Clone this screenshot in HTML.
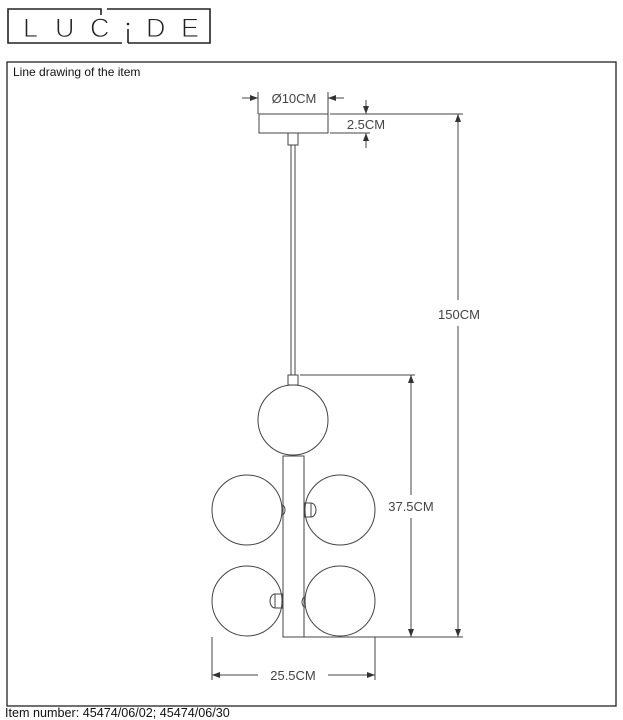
<!DOCTYPE html>
<html><head><meta charset="utf-8"><style>
html,body{margin:0;padding:0;background:#fff;}
body{width:623px;height:720px;overflow:hidden;position:relative;font-family:"Liberation Sans",sans-serif;}
</style></head><body>
<svg width="623" height="720" viewBox="0 0 623 720" xmlns="http://www.w3.org/2000/svg" style="position:absolute;left:0;top:0">
<defs>
<marker id="a" markerWidth="8" markerHeight="6" refX="8" refY="3" orient="auto" markerUnits="userSpaceOnUse"><path d="M0,0 L8,3 L0,6 Z" fill="#333"/></marker>
</defs>
<g fill="none" stroke="#222" stroke-width="1.6">
<path d="M101,15 L101,9 L8,9 L8,43 L122,43"/>
<path d="M107,9 L210,9 L210,43 L128,43"/>
<path d="M128,29 L128,43"/>
</g>
<circle cx="128" cy="24" r="1.3" fill="#222"/>
<g font-family="Liberation Sans,sans-serif" font-size="27" fill="#222" stroke="#fff" stroke-width="0.9">
<text x="23" y="37">L</text><text x="55" y="37">U</text><text x="90" y="37">C</text><text x="146" y="37">D</text><text x="181" y="37">E</text>
</g>
<rect x="7" y="62" width="609" height="644" fill="none" stroke="#222" stroke-width="1.3"/>
<text x="13" y="76" font-size="12" fill="#111">Line drawing of the item</text>
<text x="5" y="717" font-size="12.6" fill="#111">Item number: 45474/06/02; 45474/06/30</text>
<g fill="none" stroke="#444" stroke-width="1">
<rect x="259" y="114" width="69" height="19"/>
<rect x="288" y="133" width="10" height="12"/>
<line x1="291" y1="145" x2="291" y2="375"/><line x1="295" y1="145" x2="295" y2="375"/>
<rect x="288" y="375" width="10" height="10"/>
<circle cx="293" cy="420" r="35"/>
<rect x="283" y="456" width="21" height="181" fill="#fff"/>
<circle cx="247" cy="510" r="35"/>
<circle cx="340" cy="510" r="35"/>
<circle cx="247" cy="601" r="35"/>
<circle cx="340" cy="601" r="35"/>
<path d="M282,505 a3,5 0 0 1 0,10"/>
<rect x="305" y="503" width="6" height="14"/><path d="M311,503 a5,7 0 0 1 0,14"/>
<rect x="275" y="594" width="7" height="14"/><path d="M275,594 a5,7 0 0 0 0,14"/>
<path d="M305,597 a3,5 0 0 0 0,10"/>
</g>
<g stroke="#444" stroke-width="1" fill="none">
<line x1="258" y1="92" x2="258" y2="114"/><line x1="328" y1="92" x2="328" y2="114"/>
<line x1="242" y1="98" x2="258" y2="98" marker-end="url(#a)"/>
<line x1="344" y1="98" x2="328" y2="98" marker-end="url(#a)"/>
<line x1="330" y1="114" x2="463" y2="114"/>
<line x1="330" y1="133" x2="370" y2="133"/>
<line x1="366" y1="100" x2="366" y2="114" marker-end="url(#a)"/>
<line x1="366" y1="148" x2="366" y2="133" marker-end="url(#a)"/>
<line x1="458" y1="300" x2="458" y2="114" marker-end="url(#a)"/>
<line x1="458" y1="326" x2="458" y2="637" marker-end="url(#a)"/>
<line x1="300" y1="375" x2="415" y2="375"/>
<line x1="304" y1="637" x2="463" y2="637"/>
<line x1="411" y1="495" x2="411" y2="375" marker-end="url(#a)"/>
<line x1="411" y1="518" x2="411" y2="637" marker-end="url(#a)"/>
<line x1="212" y1="637" x2="212" y2="680"/><line x1="375" y1="637" x2="375" y2="680"/>
<line x1="258" y1="675" x2="212" y2="675" marker-end="url(#a)"/>
<line x1="328" y1="675" x2="375" y2="675" marker-end="url(#a)"/>
</g>
<g font-size="13" fill="#444" font-family="Liberation Sans,sans-serif" text-anchor="middle">
<text x="294" y="103">Ø10CM</text>
<text x="366" y="129">2.5CM</text>
<text x="459" y="319">150CM</text>
<text x="411" y="511">37.5CM</text>
<text x="293" y="680">25.5CM</text>
</g>
</svg>
</body></html>
